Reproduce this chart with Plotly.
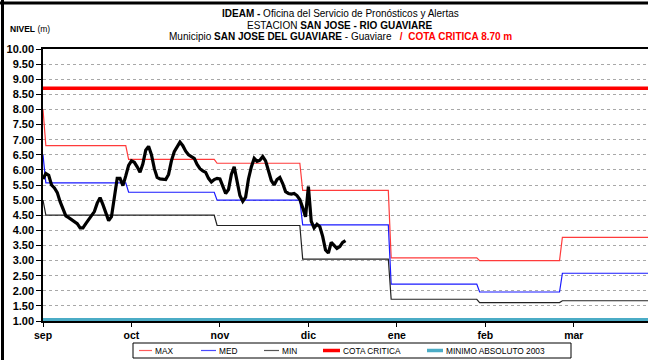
import plotly.graph_objects as go

# --- Observed daily level (m), day 0 = 1 sep ---
nivel_obs = [
    5.70, 5.88, 5.82, 5.50, 5.40, 5.25, 4.95, 4.68, 4.48, 4.42,
    4.35, 4.30, 4.22, 4.08, 4.08, 4.22, 4.35, 4.45, 4.62, 4.90,
    5.08, 4.85, 4.58, 4.32, 4.45, 5.10, 5.72, 5.72, 5.48, 5.80,
    6.15, 6.30, 6.25, 6.10, 5.92, 6.20, 6.65, 6.78, 6.50, 6.05,
    5.75, 5.70, 5.70, 5.68, 5.85, 6.30, 6.60, 6.78, 6.92, 6.80,
    6.62, 6.50, 6.45, 6.38, 6.18, 6.04, 5.97, 5.92, 5.72, 5.60,
    5.68, 5.72, 5.70, 5.45, 5.22, 5.35, 5.85, 6.10, 5.60, 5.15,
    4.96, 5.10, 5.70, 6.10, 6.38, 6.28, 6.32, 6.44, 6.30, 5.92,
    5.65, 5.50, 5.68, 5.75, 5.55, 5.28, 5.22, 5.20, 5.22, 5.15,
    5.02, 4.75, 4.45, 5.45, 4.30, 4.08, 4.20, 4.12, 3.80, 3.35,
    3.25, 3.60, 3.48, 3.40, 3.46, 3.60, 3.66,
]
dias_obs = list(range(len(nivel_obs)))

# --- Monthly historical statistics (sep .. mar) ---
meses = ["sep", "oct", "nov", "dic", "ene", "feb", "mar"]
inicio_mes = [0, 30, 61, 91, 122, 153, 182]   # first day of each month
fin_serie = 212
nivel_max = [6.80, 6.35, 6.22, 5.32, 3.09, 3.00, 3.77]
nivel_med = [5.57, 5.26, 5.00, 4.18, 2.22, 1.96, 2.58]
nivel_min = [4.50, 4.50, 4.16, 3.05, 1.72, 1.61, 1.67]
inicio_max, inicio_med, inicio_min = 8.00, 6.50, 5.00

cota_critica = 8.70
minimo_absoluto = 1.04

# --- Axis ticks ---
x_ticks = [0, 31, 62, 93, 124, 155, 186]
y_ticks = [1.0 + 0.5 * i for i in range(19)]

# --- Legend entries: name, colour, line width, sample x-range, text x ---
leyenda = [
    ("MAX", "#ff5a5a", 1.2, 139, 152),
    ("MED", "#4a4aff", 1.2, 201, 216),
    ("MIN", "#555555", 1.2, 264, 279),
    ("COTA CRITICA", "#ff0000", 3.5, 323, 340),
    ("MINIMO ABSOLUTO 2003", "#4bacc6", 3.5, 427, 443),
]


def escalones(valor_inicial, valores):
    """Monthly step line with a one-day transition between months."""
    xs, ys = [0], [valor_inicial]
    limites = inicio_mes + [fin_serie + 1]
    for i, v in enumerate(valores):
        a = max(limites[i], 1)
        b = limites[i + 1] - 1
        xs += [a, b]
        ys += [v, v]
    return xs, ys


fig = go.Figure()

for nombre, ini, vals, color in [
    ("MAX", inicio_max, nivel_max, "#ff3b3b"),
    ("MED", inicio_med, nivel_med, "#1a1aff"),
    ("MIN", inicio_min, nivel_min, "#222222"),
]:
    xs, ys = escalones(ini, vals)
    fig.add_trace(go.Scatter(x=xs, y=ys, mode="lines", name=nombre,
                             line=dict(color=color, width=1.2)))

fig.add_trace(go.Scatter(x=[0, fin_serie], y=[cota_critica] * 2, mode="lines",
                         name="COTA CRITICA", line=dict(color="#ff0000", width=3.5)))
fig.add_trace(go.Scatter(x=[0, fin_serie], y=[minimo_absoluto] * 2, mode="lines",
                         name="MINIMO ABSOLUTO 2003", line=dict(color="#4bacc6", width=3.5)))

fig.add_trace(go.Scatter(x=dias_obs, y=nivel_obs, mode="lines", name="NIVEL",
                         line=dict(color="#000000", width=3.2)))

# pixel -> paper helpers for the fixed 648x360 canvas
L, R, T, B = 43, 648, 49, 321


def px(x):
    return (x - L) / (R - L)


def py(y):
    return (B - y) / (B - T)


fig.update_layout(
    width=648, height=360,
    margin=dict(l=L, r=648 - R, t=T, b=360 - B),
    paper_bgcolor="white", plot_bgcolor="white",
    font=dict(family="Liberation Sans, Arial, sans-serif", color="black"),
    showlegend=False,
    xaxis=dict(range=[0, fin_serie], tickvals=x_ticks,
               ticktext=[f"<b>{m}</b>" for m in meses],
               tickfont=dict(size=10.5), ticks="outside", ticklen=4, tickcolor="black",
               showline=True, linecolor="black", linewidth=1.5, mirror=True,
               showgrid=False, zeroline=False),
    yaxis=dict(range=[1, 10], tickvals=y_ticks,
               ticktext=[f"<b>{v:.2f}</b>" for v in y_ticks],
               tickfont=dict(size=11), ticks="outside", ticklen=5, tickcolor="black",
               showline=True, linecolor="black", linewidth=1.5,
               showgrid=True, gridcolor="#a8a8a8", griddash="dot", gridwidth=1,
               zeroline=False),
)

# titles
cx = px(340)
fig.add_annotation(x=cx, y=py(13), xref="paper", yref="paper", showarrow=False,
                   text="<b>IDEAM - </b>Oficina del Servicio de Pronósticos y Alertas",
                   font=dict(size=10), xanchor="center", yanchor="middle")
fig.add_annotation(x=cx, y=py(25), xref="paper", yref="paper", showarrow=False,
                   text="ESTACION <b>SAN JOSE - RIO GUAVIARE</b>",
                   font=dict(size=10), xanchor="center", yanchor="middle")
fig.add_annotation(x=cx, y=py(37), xref="paper", yref="paper", showarrow=False,
                   text="Municipio <b>SAN JOSE DEL GUAVIARE</b> - Guaviare   "
                        "<span style='color:#ff0000'><b>/  COTA CRITICA 8.70 m</b></span>",
                   font=dict(size=10), xanchor="center", yanchor="middle")
fig.add_annotation(x=px(8), y=py(29), xref="paper", yref="paper", showarrow=False,
                   text="<b>NIVEL</b> (m)", font=dict(size=8.5),
                   xanchor="left", yanchor="middle")

# legend box with line samples
fig.add_shape(type="rect", xref="paper", yref="paper",
              x0=px(133), x1=px(571), y0=py(343), y1=py(358),
              line=dict(color="black", width=1), fillcolor="white")
ly = py(350.5)
for nombre, color, ancho, x0, x1 in leyenda:
    fig.add_shape(type="line", xref="paper", yref="paper",
                  x0=px(x0), x1=px(x1), y0=ly, y1=ly,
                  line=dict(color=color, width=ancho))
    fig.add_annotation(x=px(x1 + 0.5), y=ly, xref="paper", yref="paper", showarrow=False,
                       text=nombre, font=dict(size=8.3), xanchor="left", yanchor="middle")

# outer frame of the chart (top and left edges)
fig.add_shape(type="line", xref="paper", yref="paper",
              x0=px(0), x1=px(648), y0=py(3), y1=py(3),
              line=dict(color="black", width=3))
fig.add_shape(type="line", xref="paper", yref="paper",
              x0=px(2.5), x1=px(2.5), y0=py(0), y1=py(360),
              line=dict(color="black", width=3))

fig.write_html("out.html")
